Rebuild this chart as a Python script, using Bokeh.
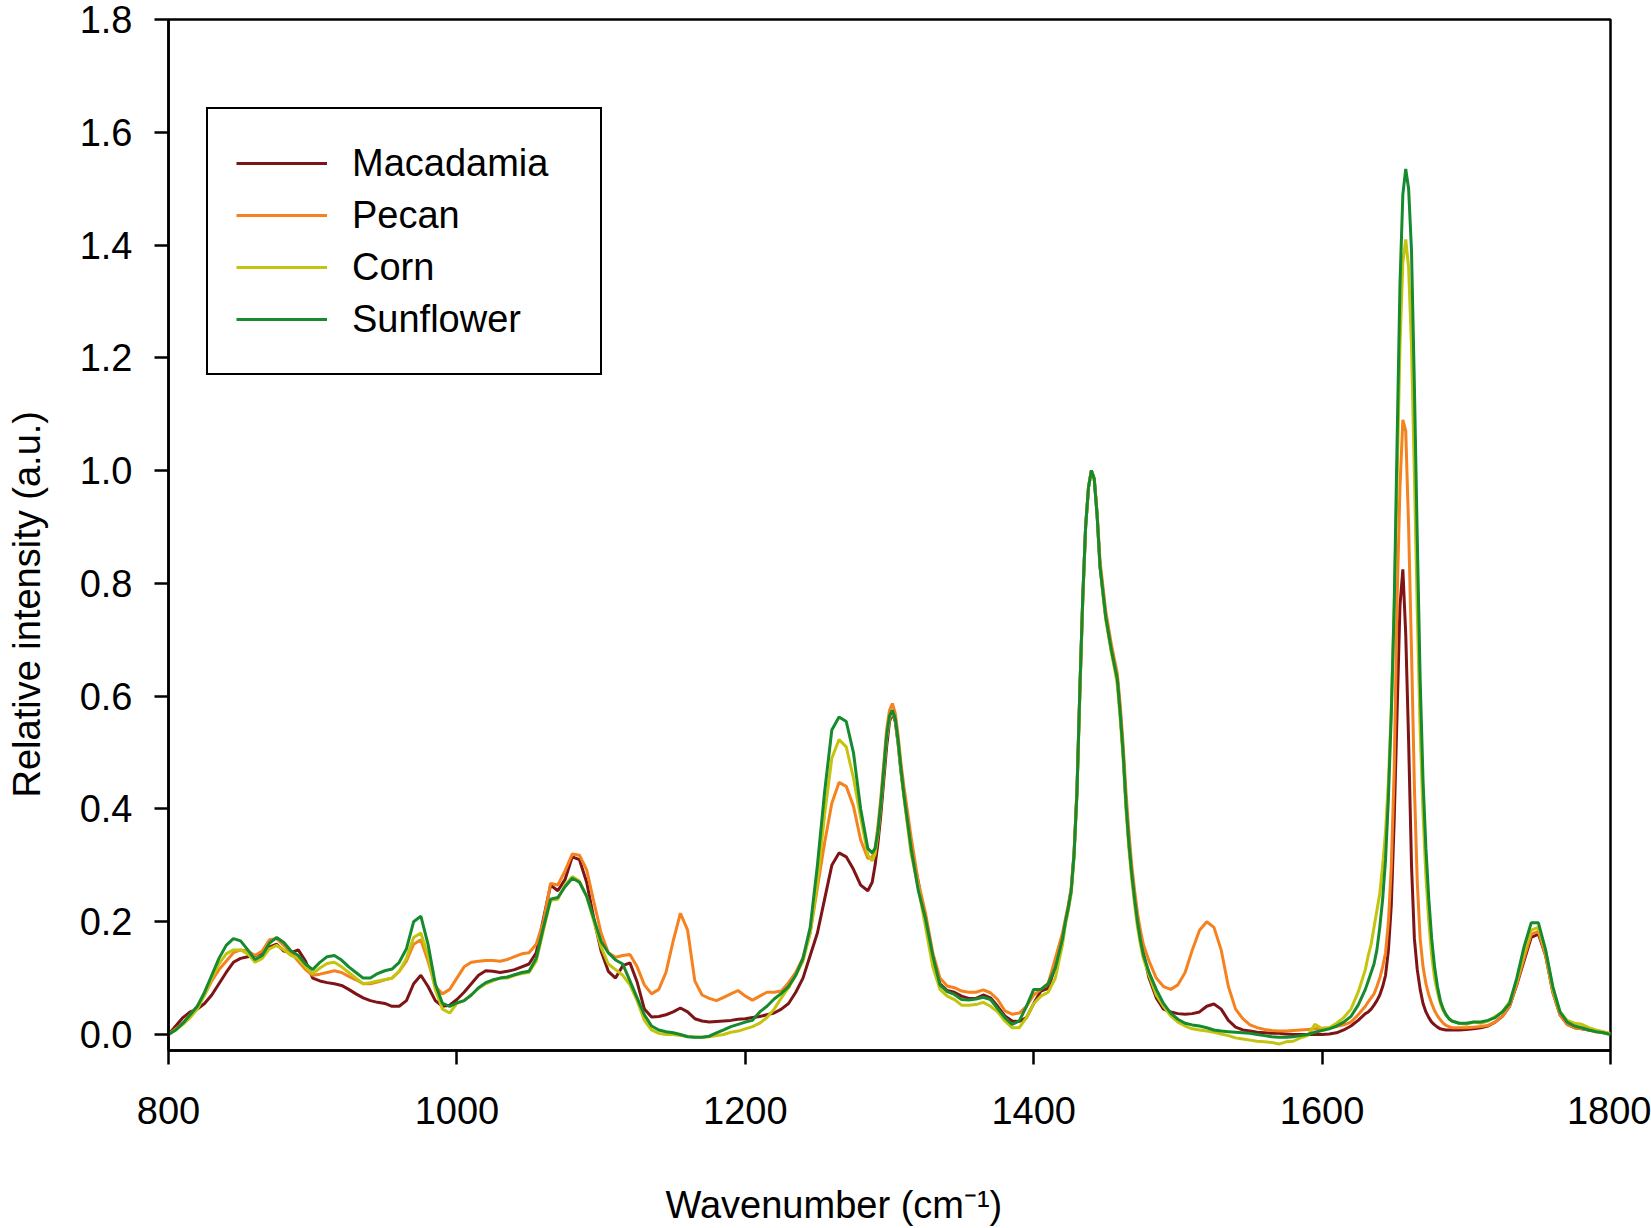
from bokeh.plotting import figure
from bokeh.models import Range1d, FixedTicker, Legend, LegendItem, Title
from bokeh.embed import file_html
from bokeh.resources import INLINE

# ---------------- data ----------------
wavenumber = (list(range(800, 1286, 5)) + list(range(1288, 1311, 2)) +
              list(range(1315, 1421, 5)) + list(range(1422, 1477, 2)) +
              list(range(1480, 1631, 5)) + list(range(1632, 1691, 2)) +
              list(range(1695, 1801, 5)))

macadamia = [
    0.0, 0.015, 0.03, 0.04, 0.045, 0.055, 0.07, 0.09, 0.11, 0.128,
    0.135, 0.138, 0.14, 0.145, 0.155, 0.16, 0.148, 0.145, 0.15, 0.13,
    0.1, 0.095, 0.092, 0.09, 0.087, 0.08, 0.072, 0.065, 0.06, 0.057,
    0.055, 0.05, 0.05, 0.06, 0.09, 0.105, 0.085, 0.06, 0.05, 0.052,
    0.062, 0.075, 0.09, 0.105, 0.113, 0.112, 0.11, 0.112, 0.115, 0.12,
    0.125, 0.145, 0.205, 0.265, 0.255, 0.275, 0.315, 0.31, 0.27, 0.205,
    0.148, 0.112, 0.1, 0.122, 0.127, 0.093, 0.045, 0.031, 0.032, 0.035,
    0.04, 0.047, 0.04, 0.028, 0.024, 0.022, 0.023, 0.024, 0.025, 0.027,
    0.028, 0.03, 0.032, 0.035, 0.038, 0.045, 0.055, 0.075, 0.1, 0.14,
    0.18, 0.24, 0.3, 0.322, 0.315, 0.293, 0.265, 0.255,
    # 1288-1310
    0.27, 0.3, 0.34, 0.39, 0.45, 0.51, 0.555, 0.57, 0.555, 0.515, 0.465, 0.425,
    # 1315-1420
    0.33, 0.27, 0.2, 0.13, 0.09, 0.078, 0.075, 0.068, 0.064, 0.064, 0.07,
    0.065, 0.05, 0.033, 0.024, 0.023, 0.03, 0.055, 0.077, 0.082, 0.12, 0.17,
    # 1422-1476
    0.2, 0.225, 0.255, 0.32, 0.43, 0.61, 0.77, 0.9, 0.97, 1.0, 0.985, 0.92,
    0.83, 0.785, 0.74, 0.71, 0.68, 0.655, 0.63, 0.57, 0.5, 0.41, 0.34, 0.285,
    0.24, 0.2, 0.17, 0.145,
    # 1480-1630
    0.1, 0.065, 0.045, 0.04, 0.037, 0.036, 0.037, 0.04, 0.05, 0.054, 0.045,
    0.025, 0.013, 0.008, 0.006, 0.004, 0.003, 0.002, 0.002, 0.001, 0.0, 0.0,
    0.0, 0.0, 0.0, 0.001, 0.003, 0.008, 0.015, 0.025, 0.037,
    # 1632-1690
    0.04, 0.045, 0.052, 0.06, 0.07, 0.085, 0.105, 0.15, 0.23, 0.38, 0.57,
    0.76, 0.825, 0.71, 0.52, 0.3, 0.17, 0.115, 0.08, 0.055, 0.04, 0.03,
    0.022, 0.017, 0.013, 0.01, 0.009, 0.008, 0.008, 0.008,
    # 1695-1800
    0.008, 0.009, 0.01, 0.012, 0.015, 0.022, 0.032, 0.05, 0.088, 0.13, 0.172,
    0.178, 0.14, 0.075, 0.035, 0.018, 0.012, 0.01, 0.008, 0.006, 0.004, 0.001,
]

pecan = [
    0.0, 0.01, 0.02, 0.035, 0.05, 0.07, 0.095, 0.115, 0.13, 0.145,
    0.15, 0.148, 0.14, 0.148, 0.168, 0.17, 0.158, 0.145, 0.13, 0.115,
    0.105, 0.107, 0.11, 0.113, 0.11, 0.103, 0.097, 0.09, 0.09, 0.093,
    0.097, 0.1, 0.112, 0.13, 0.16, 0.168, 0.13, 0.085, 0.072, 0.08,
    0.1, 0.12, 0.128, 0.13, 0.131, 0.131, 0.13, 0.133, 0.138, 0.143,
    0.145, 0.16, 0.2, 0.268, 0.265, 0.29, 0.32, 0.318, 0.292, 0.235,
    0.18, 0.145, 0.137, 0.14, 0.142, 0.12, 0.088, 0.072, 0.08, 0.11,
    0.166, 0.215, 0.185, 0.095, 0.07, 0.064, 0.06, 0.066, 0.072, 0.078,
    0.068, 0.061, 0.068, 0.075, 0.075, 0.077, 0.092, 0.11, 0.136, 0.18,
    0.26, 0.34, 0.41, 0.447, 0.44, 0.405, 0.345, 0.312,
    # 1288-1310
    0.315, 0.33, 0.37, 0.42, 0.48, 0.54, 0.575, 0.587, 0.57, 0.53, 0.48, 0.44,
    # 1315-1420
    0.35, 0.27, 0.215, 0.145, 0.1, 0.086, 0.083, 0.077, 0.075, 0.075, 0.079,
    0.074, 0.062, 0.042, 0.036, 0.038, 0.05, 0.07, 0.08, 0.09, 0.135, 0.18,
    # 1422-1476
    0.205, 0.23, 0.26, 0.325, 0.435, 0.61, 0.77, 0.9, 0.97, 1.0, 0.985, 0.925,
    0.84, 0.795, 0.75, 0.72, 0.69, 0.665, 0.64, 0.585, 0.515, 0.43, 0.36, 0.3,
    0.255, 0.215, 0.185, 0.16,
    # 1480-1630
    0.13, 0.1, 0.085, 0.08, 0.088, 0.11, 0.15, 0.185, 0.2, 0.19, 0.15,
    0.085, 0.045, 0.028, 0.017, 0.012, 0.009, 0.007, 0.006, 0.006, 0.007, 0.008,
    0.009, 0.01, 0.011, 0.012, 0.014, 0.017, 0.022, 0.035, 0.05,
    # 1632-1690
    0.058, 0.065, 0.072, 0.085, 0.1, 0.12, 0.145, 0.2, 0.3, 0.47, 0.77,
    0.97, 1.09, 1.07, 0.9, 0.68, 0.44, 0.27, 0.17, 0.12, 0.09, 0.07,
    0.055, 0.042, 0.033, 0.026, 0.02, 0.016, 0.014, 0.012,
    # 1695-1800
    0.012, 0.012, 0.013, 0.014, 0.016, 0.022, 0.032, 0.05, 0.09, 0.135, 0.178,
    0.183, 0.14, 0.075, 0.035, 0.018, 0.012, 0.01, 0.008, 0.005, 0.003, 0.0,
]

corn = [
    0.0, 0.008, 0.018, 0.03, 0.045, 0.07, 0.1, 0.125, 0.143, 0.15,
    0.15, 0.143, 0.128, 0.135, 0.152, 0.158, 0.15, 0.14, 0.135, 0.12,
    0.108, 0.118, 0.126, 0.128, 0.12, 0.11, 0.1, 0.09, 0.092, 0.095,
    0.097, 0.1, 0.112, 0.135, 0.172, 0.18, 0.14, 0.08, 0.045, 0.038,
    0.055, 0.06, 0.07, 0.082, 0.09, 0.095, 0.1, 0.1, 0.105, 0.108,
    0.11, 0.13, 0.185, 0.238, 0.24, 0.265, 0.28, 0.272, 0.245, 0.2,
    0.155, 0.125, 0.115, 0.105, 0.088, 0.06, 0.025, 0.008, 0.002, 0.0,
    0.0, -0.002, -0.003, -0.005, -0.005, -0.004, -0.002, 0.0, 0.004, 0.006,
    0.01, 0.014, 0.02, 0.03, 0.045, 0.065, 0.083, 0.105, 0.13, 0.18,
    0.27, 0.39, 0.49, 0.523, 0.51, 0.455, 0.385, 0.318,
    # 1288-1310
    0.308, 0.32, 0.355, 0.405, 0.465, 0.525, 0.56, 0.572, 0.558, 0.515, 0.465, 0.42,
    # 1315-1420
    0.32, 0.26, 0.19, 0.12, 0.08, 0.068, 0.062, 0.052, 0.052, 0.053, 0.057,
    0.05, 0.04, 0.024, 0.012, 0.012, 0.03, 0.055, 0.068, 0.075, 0.1, 0.16,
    # 1422-1476
    0.195, 0.22, 0.25, 0.315, 0.425, 0.6, 0.77, 0.9, 0.97, 1.0, 0.985, 0.92,
    0.83, 0.78, 0.735, 0.705, 0.675, 0.65, 0.62, 0.56, 0.49, 0.4, 0.33, 0.275,
    0.23, 0.19, 0.16, 0.135,
    # 1480-1630
    0.105, 0.07, 0.05, 0.033, 0.022, 0.015, 0.01, 0.008, 0.006, 0.004, 0.001,
    -0.002, -0.006, -0.008, -0.01, -0.012, -0.013, -0.014, -0.017, -0.013, -0.012, -0.006,
    -0.002, 0.018, 0.01, 0.012, 0.02, 0.03, 0.045, 0.075, 0.115,
    # 1632-1690
    0.14, 0.16, 0.19, 0.22, 0.25, 0.3, 0.36, 0.45, 0.58, 0.76, 0.98,
    1.22, 1.37, 1.41, 1.36, 1.22, 0.99, 0.75, 0.54, 0.39, 0.28, 0.2,
    0.14, 0.1, 0.075, 0.055, 0.042, 0.034, 0.028, 0.024,
    # 1695-1800
    0.02, 0.018, 0.022, 0.02, 0.024, 0.032, 0.04, 0.058, 0.095, 0.145, 0.185,
    0.19, 0.148, 0.08, 0.04, 0.025, 0.02, 0.018, 0.012, 0.008, 0.005, 0.002,
]

sunflower = [
    0.0, 0.008, 0.02, 0.035, 0.05, 0.075, 0.105, 0.135, 0.158, 0.17,
    0.166, 0.15, 0.133, 0.14, 0.162, 0.172, 0.163, 0.148, 0.14, 0.125,
    0.115, 0.128, 0.138, 0.14, 0.132, 0.12, 0.11, 0.1, 0.1, 0.108,
    0.113, 0.116, 0.128, 0.152, 0.2, 0.21, 0.16, 0.09, 0.055, 0.05,
    0.056, 0.06, 0.07, 0.083, 0.092, 0.097, 0.1, 0.102, 0.106, 0.11,
    0.112, 0.135, 0.19, 0.24, 0.243, 0.262, 0.277, 0.27, 0.245, 0.205,
    0.165, 0.145, 0.132, 0.125, 0.095, 0.065, 0.035, 0.015, 0.008, 0.005,
    0.003, 0.0, -0.004, -0.005, -0.005, -0.003, 0.003, 0.008, 0.014, 0.018,
    0.022, 0.025, 0.04, 0.05, 0.063, 0.073, 0.085, 0.105, 0.135, 0.19,
    0.3, 0.43, 0.54, 0.563, 0.555, 0.5, 0.4, 0.33,
    # 1288-1310
    0.322, 0.33, 0.36, 0.41, 0.47, 0.53, 0.565, 0.575, 0.56, 0.52, 0.47, 0.425,
    # 1315-1420
    0.33, 0.255, 0.205, 0.14, 0.088, 0.076, 0.071, 0.062, 0.061, 0.063, 0.066,
    0.062, 0.046, 0.03, 0.018, 0.024, 0.05, 0.08, 0.08, 0.09, 0.118, 0.17,
    # 1422-1476
    0.2, 0.225, 0.255, 0.32, 0.43, 0.61, 0.775, 0.9, 0.97, 1.0, 0.985, 0.92,
    0.83, 0.785, 0.74, 0.71, 0.68, 0.655, 0.63, 0.57, 0.5, 0.41, 0.34, 0.285,
    0.24, 0.2, 0.168, 0.142,
    # 1480-1630
    0.11, 0.08, 0.055, 0.038, 0.027, 0.02, 0.017, 0.015, 0.012, 0.008, 0.006,
    0.005, 0.004, 0.003, 0.002, 0.0, -0.002, -0.004, -0.005, -0.005, -0.004, -0.002,
    0.0, 0.004, 0.007, 0.01, 0.015, 0.022, 0.032, 0.052, 0.08,
    # 1632-1690
    0.095, 0.11, 0.125, 0.15, 0.19, 0.24, 0.31, 0.42, 0.57, 0.76, 1.05,
    1.33, 1.49, 1.535, 1.5, 1.39, 1.15, 0.88, 0.63, 0.45, 0.33, 0.24,
    0.17, 0.12, 0.085, 0.06, 0.045, 0.035, 0.028, 0.024,
    # 1695-1800
    0.02, 0.02, 0.022, 0.022, 0.025, 0.03, 0.04, 0.055, 0.1, 0.155, 0.198,
    0.198, 0.15, 0.085, 0.04, 0.022, 0.015, 0.012, 0.008, 0.005, 0.003, 0.0,
]

series_names = ["Macadamia", "Pecan", "Corn", "Sunflower"]
series_colors = ["#7F1416", "#F5821E", "#C4C40E", "#158A2E"]
x_ticks = [800, 1000, 1200, 1400, 1600, 1800]
x_tick_labels = ["800", "1000", "1200", "1400", "1600", "1800"]
y_ticks = [0.0, 0.2, 0.4, 0.6, 0.8, 1.0, 1.2, 1.4, 1.6, 1.8]
y_tick_labels = ["0.0", "0.2", "0.4", "0.6", "0.8", "1.0", "1.2", "1.4", "1.6", "1.8"]
x_title = "Wavenumber (cm\u207b\u00b9)"
y_title = "Relative intensity (a.u.)"

for s in (macadamia, pecan, corn, sunflower):
    assert len(s) == len(wavenumber), (len(s), len(wavenumber))

FONT = "Liberation Sans"
FS = "38px"

p = figure(frame_width=1442, frame_height=1031,
           x_range=Range1d(800, 1800), y_range=Range1d(-0.0284, 1.8),
           output_backend="svg", toolbar_location=None,
           min_border_left=168, min_border_right=41,
           min_border_top=19, min_border_bottom=178)
p.background_fill_color = "white"
p.border_fill_color = "white"
p.xgrid.visible = False
p.ygrid.visible = False
p.outline_line_color = "black"
p.outline_line_width = 2.5
p.outline_line_alpha = 1.0

for ax in (p.xaxis[0], p.yaxis[0]):
    ax.axis_line_width = 2.5
    ax.axis_line_color = "black"
    ax.major_tick_line_width = 2.5
    ax.major_tick_line_color = "black"
    ax.major_tick_in = 0
    ax.major_tick_out = 14
    ax.minor_tick_line_color = None
    ax.major_label_text_font = FONT
    ax.major_label_text_font_size = FS
    ax.major_label_text_color = "black"
    # blank spacer label: only pushes the title panels outward
    ax.axis_label = " "
    ax.axis_label_text_font_size = "1px"

p.xaxis[0].ticker = FixedTicker(ticks=x_ticks)
p.xaxis[0].major_label_overrides = dict(zip(x_ticks, x_tick_labels))
p.xaxis[0].major_label_standoff = 32
p.xaxis[0].axis_label_standoff = 51
p.yaxis[0].ticker = FixedTicker(ticks=y_ticks)
p.yaxis[0].major_label_overrides = dict(zip(y_ticks, y_tick_labels))
p.yaxis[0].major_label_standoff = 22
p.yaxis[0].axis_label_standoff = 25

renderers = []
for ys, c in zip((macadamia, pecan, corn, sunflower), series_colors):
    r = p.line(wavenumber, ys, line_color=c, line_width=3)
    renderers.append(r)

legend = Legend(items=[LegendItem(label=n, renderers=[r]) for n, r in zip(series_names, renderers)],
                location=(38, 675), orientation="vertical",
                padding=28, spacing=0, margin=0,
                glyph_width=91, glyph_height=52, label_height=52, label_width=220,
                label_standoff=25,
                label_text_font=FONT, label_text_font_size=FS, label_text_color="black",
                border_line_color="black", border_line_width=2.5, border_line_alpha=1.0,
                background_fill_color="white", background_fill_alpha=1.0)
p.add_layout(legend)

p.add_layout(Title(text=y_title, align="left", offset=253, standoff=0,
                   text_font=FONT, text_font_size=FS, text_font_style="normal",
                   text_color="black"), "left")
p.add_layout(Title(text=x_title, align="left", offset=497, standoff=0,
                   text_font=FONT, text_font_size=FS, text_font_style="normal",
                   text_color="black"), "below")

open("out.html", "w").write(file_html(p, INLINE))
